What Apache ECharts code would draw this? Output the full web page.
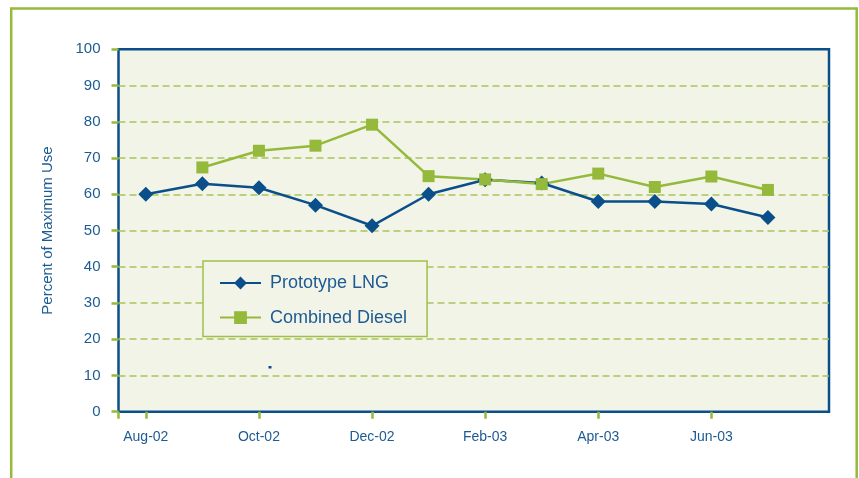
<!DOCTYPE html>
<html>
<head>
<meta charset="utf-8">
<script src="https://cdn.jsdelivr.net/npm/echarts@6/dist/echarts.min.js"></script>
<style>html,body{margin:0;padding:0;background:#fff}#c{width:859px;height:478px}</style>
</head>
<body>
<div id="c"></div>
<script>
var months = ['Aug-02','Sep-02','Oct-02','Nov-02','Dec-02','Jan-03','Feb-03','Mar-03','Apr-03','May-03','Jun-03','Jul-03'];
var tickLabels = ['Aug-02','Oct-02','Dec-02','Feb-03','Apr-03','Jun-03'];
var lngValues = [60, 62.9, 61.8, 57, 51.3, 60, 64, 63.1, 58, 58, 57.3, 53.6];
var dieselValues = [null, 67.4, 72, 73.4, 79.2, 65, 64.1, 62.8, 65.7, 62, 64.9, 61.2];
var seriesNames = ['Prototype LNG', 'Combined Diesel'];
var yTicks = [0,10,20,30,40,50,60,70,80,90,100];

var BLUE = '#0b4f8a', GREEN = '#95b93b', TXT = '#1d5b93';
var FONT = '"Liberation Sans", Arial, sans-serif';
var xMin = -0.483, xMax = 12.08;
var labelIdx = tickLabels.map(function(m){ return months.indexOf(m); });

function pts(vals){ return vals.map(function(v,i){ return [i, v]; }); }

var chart = echarts.init(document.getElementById('c'), null, {renderer:'canvas'});
chart.setOption({
  animation: false,
  backgroundColor: '#ffffff',
  textStyle: {fontFamily: FONT},
  grid: {left: 118.5, right: 30, top: 49.3, bottom: 66.3, show: true,
         backgroundColor: '#f2f4e8', borderColor: BLUE, borderWidth: 2.5},
  xAxis: {
    type: 'value', min: xMin, max: xMax,
    axisLine: {show: false, onZero: false},
    splitLine: {show: false},
    axisTick: {show: true, length: 7, lineStyle: {color: GREEN, width: 2.5},
               customValues: [xMin].concat(labelIdx)},
    axisLabel: {customValues: labelIdx, margin: 18, color: TXT, fontSize: 14, fontFamily: FONT,
                formatter: function(v){ return months[Math.round(v)]; }}
  },
  yAxis: {
    type: 'value', min: yTicks[0], max: yTicks[yTicks.length-1], interval: 10,
    name: 'Percent of Maximum Use', nameLocation: 'middle', nameGap: 63,
    nameTextStyle: {color: TXT, fontSize: 15, fontFamily: FONT},
    axisLine: {show: false, onZero: false},
    axisTick: {show: true, length: 7, lineStyle: {color: GREEN, width: 2.5}},
    axisLabel: {margin: 18, color: TXT, fontSize: 15, fontFamily: FONT},
    splitLine: {show: true, showMinLine: false, showMaxLine: false,
                lineStyle: {color: '#a9c45c', width: 1.5, type: [7,4]}}
  },
  legend: {
    orient: 'vertical', left: 203, top: 261,
    backgroundColor: '#f2f4e8', borderColor: '#9fc04a', borderWidth: 1.5,
    padding: [13, 20, 10, 16],
    itemWidth: 41, itemHeight: 16, itemGap: 16.6,
    textStyle: {color: TXT, fontSize: 18, fontFamily: FONT, padding: [0,0,0,4]},
    data: seriesNames
  },
  series: [
    {name: seriesNames[0], type: 'line', data: pts(lngValues),
     symbol: 'diamond', symbolSize: 15,
     lineStyle: {color: BLUE, width: 2.5}, itemStyle: {color: BLUE}},
    {name: seriesNames[1], type: 'line', data: pts(dieselValues),
     symbol: 'rect', symbolSize: 12,
     lineStyle: {color: GREEN, width: 2.5}, itemStyle: {color: GREEN}}
  ],
  graphic: [
    {type: 'rect', shape: {x: 11.2, y: 8.5, width: 845.5, height: 490}, silent: true,
     style: {fill: null, stroke: GREEN, lineWidth: 2.5}, z: 100},
    {type: 'rect', shape: {x: 268.5, y: 366, width: 3, height: 2.5}, silent: true,
     style: {fill: BLUE}}
  ]
});
</script>
</body>
</html>
